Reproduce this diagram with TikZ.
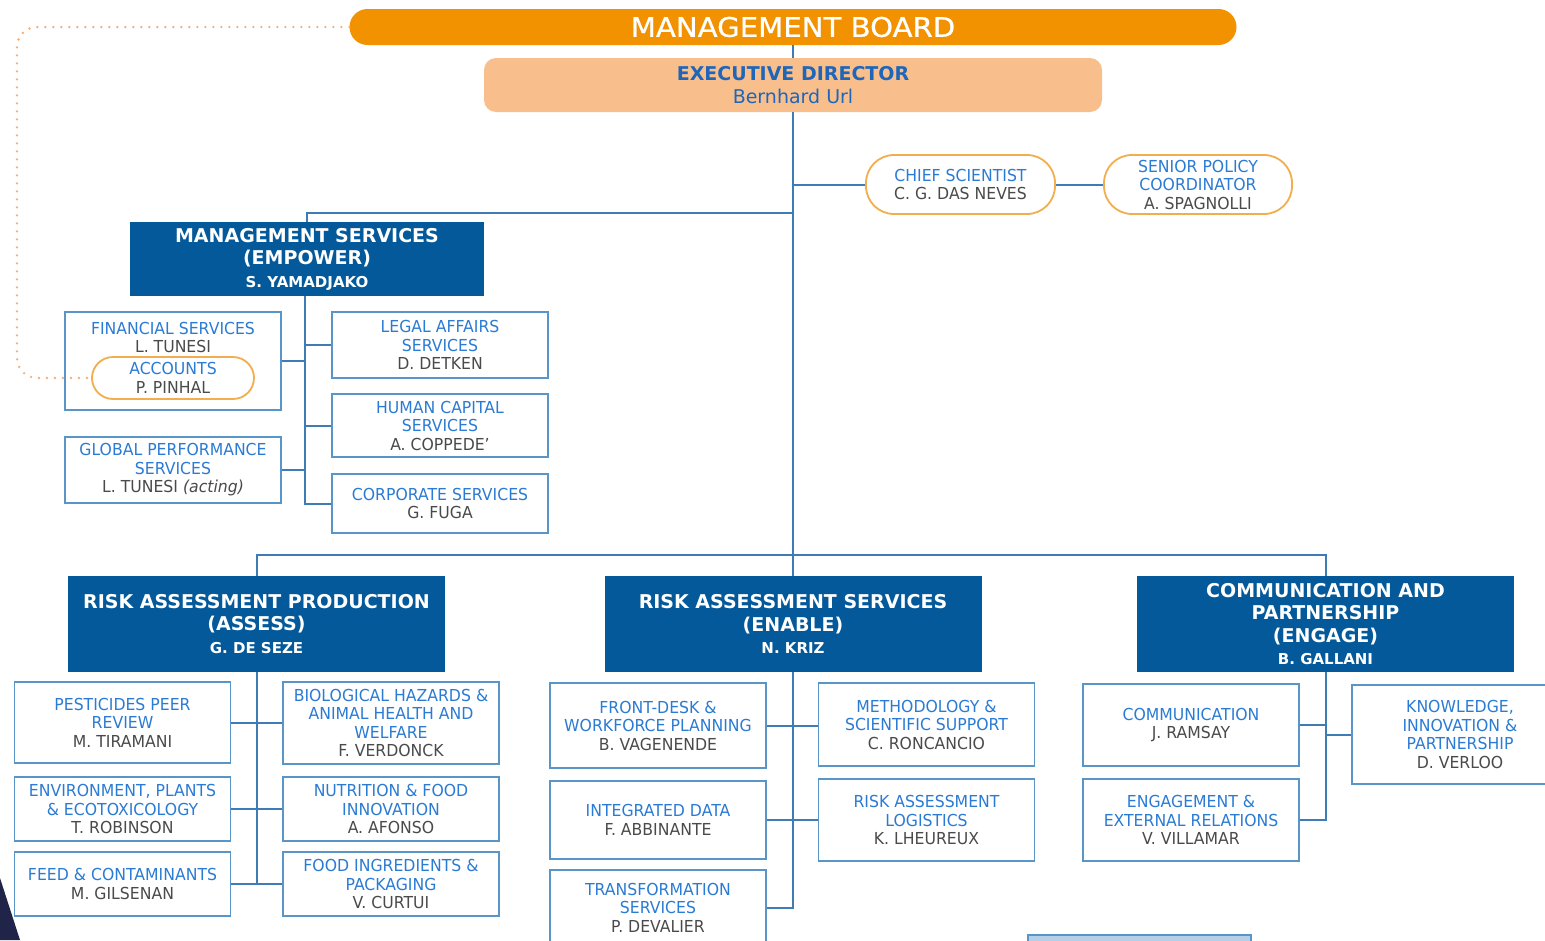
\documentclass[tikz,border=0pt]{standalone}
\usepackage{fontspec}
\setmainfont{DejaVu Sans}
\newfontfamily\dv[FakeStretch=0.95]{DejaVu Sans}
\newfontfamily\dvh{DejaVu Sans}
\newfontfamily\dvw[FakeStretch=1.08,FakeBold=0.8]{DejaVu Sans}
\definecolor{mborange}{HTML}{F29200}
\definecolor{edfill}{HTML}{F8BF8C}
\definecolor{pillline}{HTML}{F2AE4E}
\definecolor{hblue}{HTML}{03599A}
\definecolor{lineblue}{HTML}{3F7BB5}
\definecolor{boxblue}{HTML}{5A95C8}
\definecolor{tblue}{HTML}{2A7BD4}
\definecolor{tgray}{HTML}{4A4A4A}
\definecolor{edblue}{HTML}{1F66B8}
\definecolor{dotor}{HTML}{F6AE78}
\definecolor{navy}{HTML}{1F2448}
\newcommand\ttl[1]{\textcolor{tblue}{#1}}
\newcommand\nme[1]{\textcolor{tgray}{#1}}
\tikzset{
  conn/.style={draw=lineblue, line width=2pt},
  boxst/.style={draw=boxblue, line width=1.8pt, fill=white, minimum width=216pt,
    align=center, inner sep=0pt, font=\dv\fontsize{16.5}{18.5}\selectfont},
  txtst/.style={align=center, inner sep=0pt, font=\dv\fontsize{16.5}{18.5}\selectfont},
  pillst/.style={draw=pillline, line width=1.8pt, fill=white, rounded corners=28pt,
    align=center, inner sep=0pt, font=\dv\fontsize{16.5}{18.5}\selectfont},
  hdrst/.style={fill=hblue, draw=none, minimum width=377pt, minimum height=96pt,
    align=center, inner sep=0pt, text=white, font=\dvh\bfseries\fontsize{19}{22.5}\selectfont},
}
\begin{document}
\begin{tikzpicture}[x=1pt,y=-1pt]
\useasboundingbox (0,0) rectangle (1545,940);
\fill[white] (0,0) rectangle (1545,940);
\clip (0,0) rectangle (1545,940);

% top
\node[fill=mborange, rounded corners=18pt, minimum width=887pt, minimum height=36pt, inner sep=0pt,
  text=white, font=\dvw\fontsize{27}{30}\selectfont] (mb) at (793,27) {MANAGEMENT BOARD};
\node[fill=edfill, rounded corners=12pt, minimum width=618pt, minimum height=54pt, inner sep=0pt,
  align=center, text=edblue, font=\dvh\fontsize{19}{23}\selectfont] (ed) at (793,85)
  {\textbf{EXECUTIVE DIRECTOR}\\Bernhard Url};

\node[pillst, minimum width=189pt, minimum height=59pt] (cs) at (960.5,184.5)
  {\ttl{CHIEF SCIENTIST}\\\nme{C. G. DAS NEVES}};
\node[pillst, minimum width=188pt, minimum height=59pt] (spc) at (1198,184.5)
  {\ttl{SENIOR POLICY}\\\ttl{COORDINATOR}\\\nme{A. SPAGNOLLI}};

% management services
\node[hdrst, minimum width=354pt, minimum height=74pt] (ms) at (307,259)
  {MANAGEMENT SERVICES\\(EMPOWER)\\{\fontsize{15}{18}\selectfont S. YAMADJAKO}};
\node[boxst, minimum height=98pt] (fin) at (173,361) {};
\node[txtst] (fint) at (173,337.5) {\ttl{FINANCIAL SERVICES}\\\nme{L. TUNESI}};
\node[pillst, rounded corners=21pt, minimum width=162pt, minimum height=42pt] (acc) at (173,378)
  {\ttl{ACCOUNTS}\\\nme{P. PINHAL}};
\node[boxst, minimum height=66pt] (gp) at (173,470)
  {\ttl{GLOBAL PERFORMANCE}\\\ttl{SERVICES}\\\nme{L. TUNESI \textit{(acting)}}};
\node[boxst, minimum height=66pt] (legal) at (440,345)
  {\ttl{LEGAL AFFAIRS}\\\ttl{SERVICES}\\\nme{D. DETKEN}};
\node[boxst, minimum height=63pt] (hc) at (440,425.5)
  {\ttl{HUMAN CAPITAL}\\\ttl{SERVICES}\\\nme{A. COPPEDE’}};
\node[boxst, minimum height=59pt] (corp) at (440,503.5)
  {\ttl{CORPORATE SERVICES}\\\nme{G. FUGA}};

% directorates
\node[hdrst] (rap) at (256.5,624)
  {RISK ASSESSMENT PRODUCTION\\(ASSESS)\\{\fontsize{15}{18}\selectfont G. DE SEZE}};
\node[hdrst] (ras) at (793,624)
  {RISK ASSESSMENT SERVICES\\(ENABLE)\\{\fontsize{15}{18}\selectfont N. KRIZ}};
\node[hdrst] (cp) at (1325.5,624)
  {COMMUNICATION AND\\PARTNERSHIP\\(ENGAGE)\\{\fontsize{15}{18}\selectfont B. GALLANI}};

% assess units
\node[boxst, minimum height=81pt] (pest) at (122.5,722.5)
  {\ttl{PESTICIDES PEER}\\\ttl{REVIEW}\\\nme{M. TIRAMANI}};
\node[boxst, minimum height=64pt] (env) at (122.5,809)
  {\ttl{ENVIRONMENT, PLANTS}\\\ttl{\& ECOTOXICOLOGY}\\\nme{T. ROBINSON}};
\node[boxst, minimum height=64pt] (feed) at (122.5,884)
  {\ttl{FEED \& CONTAMINANTS}\\\nme{M. GILSENAN}};
\node[boxst, minimum height=82pt] (bio) at (391,723)
  {\ttl{BIOLOGICAL HAZARDS \&}\\\ttl{ANIMAL HEALTH AND}\\\ttl{WELFARE}\\\nme{F. VERDONCK}};
\node[boxst, minimum height=64pt] (nut) at (391,809)
  {\ttl{NUTRITION \& FOOD}\\\ttl{INNOVATION}\\\nme{A. AFONSO}};
\node[boxst, minimum height=64pt] (fing) at (391,884)
  {\ttl{FOOD INGREDIENTS \&}\\\ttl{PACKAGING}\\\nme{V. CURTUI}};

% enable units
\node[boxst, minimum height=85pt] (fd) at (658,725.5)
  {\ttl{FRONT-DESK \&}\\\ttl{WORKFORCE PLANNING}\\\nme{B. VAGENENDE}};
\node[boxst, minimum height=78pt] (intd) at (658,820)
  {\ttl{INTEGRATED DATA}\\\nme{F. ABBINANTE}};
\node[boxst, minimum height=75pt] (trans) at (658,907.5)
  {\ttl{TRANSFORMATION}\\\ttl{SERVICES}\\\nme{P. DEVALIER}};
\node[boxst, minimum height=83pt] (meth) at (926.5,724.5)
  {\ttl{METHODOLOGY \&}\\\ttl{SCIENTIFIC SUPPORT}\\\nme{C. RONCANCIO}};
\node[boxst, minimum height=82pt] (ral) at (926.5,820)
  {\ttl{RISK ASSESSMENT}\\\ttl{LOGISTICS}\\\nme{K. LHEUREUX}};

% engage units
\node[boxst, minimum height=82pt] (comm) at (1191,725)
  {\ttl{COMMUNICATION}\\\nme{J. RAMSAY}};
\node[boxst, minimum height=82pt] (eng) at (1191,820)
  {\ttl{ENGAGEMENT \&}\\\ttl{EXTERNAL RELATIONS}\\\nme{V. VILLAMAR}};
\node[boxst, minimum width=216pt, minimum height=99pt] (know) at (1460,734.5)
  {\ttl{KNOWLEDGE,}\\\ttl{INNOVATION \&}\\\ttl{PARTNERSHIP}\\\nme{D. VERLOO}};

% connectors
\coordinate (msj) at (793,213);
\coordinate (msb) at (305,296);
\draw[conn] (mb.south) -- (ed.north);
\draw[conn] (ed.south) -- (ras.north);
\draw[conn] (ed.south |- cs.west) -- (cs.west);
\draw[conn] (cs.east) -- (spc.west);
\draw[conn] (ms.north) |- (msj);
\draw[conn] (msb) |- (corp.west);
\draw[conn] (fin.east) -- (fin.east -| msb);
\draw[conn] (gp.east) -- (gp.east -| msb);
\draw[conn] (legal.west) -- (legal.west -| msb);
\draw[conn] (hc.west) -- (hc.west -| msb);
\draw[conn] (rap.north) -- ++(0,-21) -| (cp.north);
\draw[conn] (rap.south) -- (rap.south |- feed.east);
\draw[conn] (pest.east) -- (pest.east -| bio.west);
\draw[conn] (env.east) -- (nut.west);
\draw[conn] (feed.east) -- (fing.west);
\draw[conn] (ras.south) |- (trans.east);
\draw[conn] (fd.east) -- (fd.east -| meth.west);
\draw[conn] (intd.east) -- (ral.west);
\draw[conn] (cp.south) |- (eng.east);
\draw[conn] (comm.east) -- (comm.east -| cp.south);
\draw[conn] (know.west) -- (know.west -| cp.south);

% dotted link board -> accounts
\draw[dotor, line width=2.6pt, line cap=round, dash pattern=on 0pt off 8pt, rounded corners=20pt]
  (mb.west) -- (17,27) -- (17,378) -- (acc.west);

% slide remnants
\fill[navy] (0,878) -- (20,940) -- (0,940) -- cycle;
\draw[boxblue, fill=boxblue!45, line width=1.5pt] (1028,935) rectangle (1251,950);
\end{tikzpicture}
\end{document}
